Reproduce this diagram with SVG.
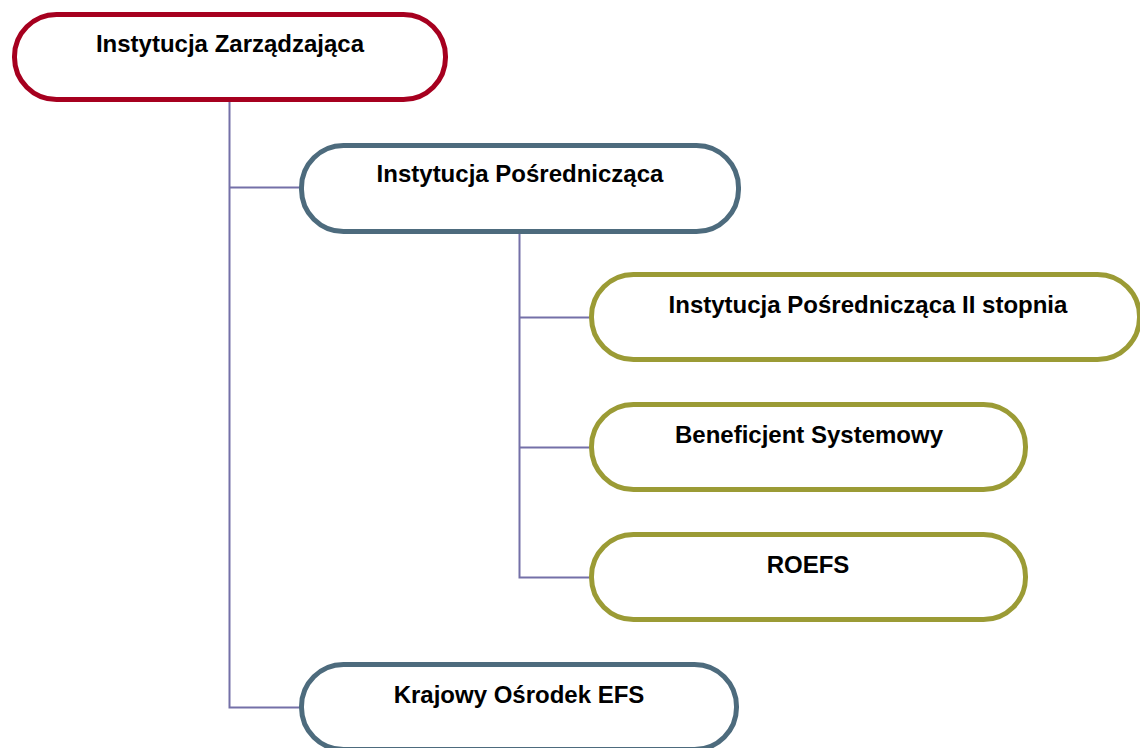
<svg xmlns="http://www.w3.org/2000/svg" width="1140" height="748" viewBox="0 0 1140 748">
<style>
.node{fill:#FFFFFF;stroke-width:5}
.red{stroke:#A6001F}
.steel{stroke:#4D6B7D}
.olive{stroke:#9B9B35}
.lbl{font-family:"Liberation Sans",Arial,sans-serif;font-weight:bold;font-size:24px;fill:#000000;text-anchor:middle}
.conn{fill:none;stroke:#7470A8;stroke-width:2}
</style>
<rect width="1140" height="748" fill="#FFFFFF"/>
<g id="connectors">
<path class="conn" d="M229.5 102 V707.5 H300"/>
<path class="conn" d="M229.5 187.5 H300"/>
<path class="conn" d="M519.5 234 V577.5 H590"/>
<path class="conn" d="M519.5 317.5 H590"/>
<path class="conn" d="M519.5 447.5 H590"/>
</g>
<g id="node-iz">
<rect class="node red" x="14.5" y="14.5" width="431" height="85" rx="42" ry="42"/>
<text class="lbl" x="230" y="52">Instytucja Zarządzająca</text>
</g>
<g id="node-ip">
<rect class="node steel" x="301.5" y="145.5" width="437" height="86" rx="42" ry="42"/>
<text class="lbl" x="520" y="182">Instytucja Pośrednicząca</text>
</g>
<g id="node-ip2">
<rect class="node olive" x="591.5" y="274.5" width="548" height="85" rx="42" ry="42"/>
<text class="lbl" x="868" y="313">Instytucja Pośrednicząca II stopnia</text>
</g>
<g id="node-bs">
<rect class="node olive" x="591.5" y="404.5" width="434" height="85" rx="42" ry="42"/>
<text class="lbl" x="809" y="443">Beneficjent Systemowy</text>
</g>
<g id="node-roefs">
<rect class="node olive" x="591.5" y="534.5" width="434" height="85" rx="42" ry="42"/>
<text class="lbl" x="808" y="573">ROEFS</text>
</g>
<g id="node-koefs">
<rect class="node steel" x="301.5" y="664.5" width="435" height="85" rx="42" ry="42"/>
<text class="lbl" x="519" y="703">Krajowy Ośrodek EFS</text>
</g>
</svg>
